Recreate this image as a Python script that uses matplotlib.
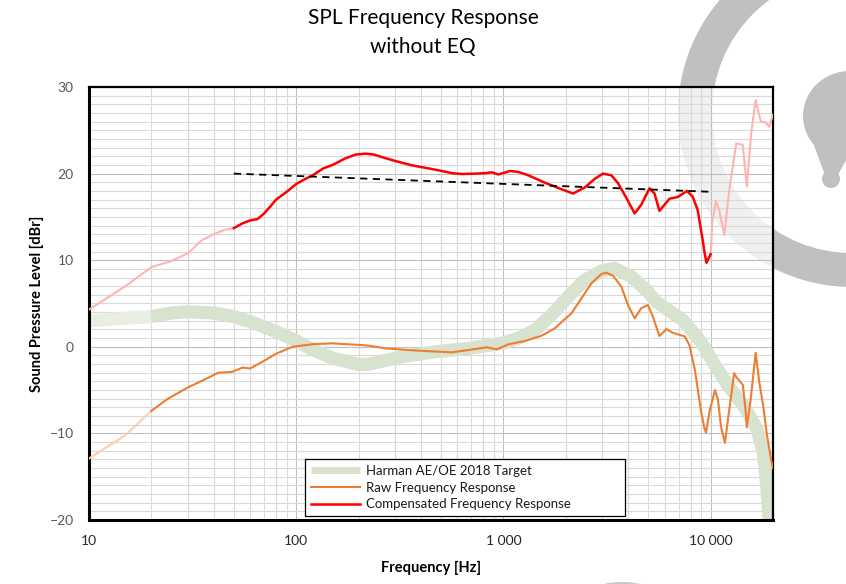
#!/usr/bin/env python3
"""SPL frequency response chart (without EQ)."""
import matplotlib
matplotlib.use('Agg')
import matplotlib.pyplot as plt
import numpy as np
from matplotlib.patches import Wedge, Ellipse, Polygon, Circle
from matplotlib.ticker import FixedLocator, FuncFormatter, MultipleLocator

plt.rcParams['font.family'] = ['Lato', 'DejaVu Sans']

# values
harman_freq = [10, 15, 20, 25, 30, 40, 50, 60, 70, 80, 100, 120, 150, 200, 224,
               324, 469, 679, 982, 1180, 1419, 1706, 2051, 2470, 2970, 3444,
               4140, 4980, 5460, 7330, 8970, 10230, 12080, 14520, 16700, 17990,
               18670, 19150, 20000]
harman_db = [3.0, 3.3, 3.5, 3.9, 4.05, 3.9, 3.5, 2.9, 2.3, 1.75, 0.7, -0.35, -1.3,
             -2.05, -2.0, -1.14, -0.57, -0.18, 0.4, 0.98, 1.94, 3.67, 5.78, 7.7,
             8.75, 9.06, 8.1, 6.36, 5.2, 3.1, 0.6, -1.7, -4.4, -6.9, -9.4, -12.3,
             -16.15, -20.0, -25.0]

raw_freq = [10, 15, 20, 24, 30, 36, 42, 49, 55, 60, 69, 80, 96, 120, 150, 174, 208,
            224, 270, 390, 565, 679, 832, 929, 1058, 1271, 1528, 1771, 1980, 2132,
            2379, 2660, 2970, 3140, 3380, 3710, 3990, 4300, 4625, 4980, 5260, 5660,
            6130, 6550, 7500, 7900, 8400, 8970, 9330, 9500, 9910, 10500, 10850,
            11220, 11720, 12300, 12980, 13400, 14300, 14750, 14950, 15600, 16500,
            17150, 17960, 18650, 19600, 20000]
raw_db = [-12.9, -10.2, -7.4, -6.0, -4.7, -3.8, -3.0, -2.9, -2.4, -2.5, -1.7, -0.8,
          0.0, 0.3, 0.4, 0.3, 0.2, 0.13, -0.18, -0.45, -0.64, -0.37, -0.06, -0.29,
          0.29, 0.67, 1.28, 2.13, 3.2, 3.87, 5.6, 7.33, 8.4, 8.56, 8.21, 6.94, 4.83,
          3.29, 4.45, 4.83, 3.5, 1.25, 2.05, 1.63, 1.2, 0.2, -2.7, -7.3, -9.4, -9.9,
          -7.3, -5.0, -6.1, -9.2, -11.1, -7.3, -3.05, -3.6, -4.4, -7.3, -9.3, -6.1,
          -0.7, -4.0, -6.9, -10.0, -13.1, -14.0]

comp_freq = [10, 15, 20, 25, 30, 35, 40, 45, 50, 55, 60, 65, 70, 75, 80, 90, 100,
             110, 120, 135, 150, 173, 194, 216, 237, 260, 301, 362, 436, 505, 565,
             631, 731, 816, 879, 946, 1077, 1180, 1320, 1585, 1905, 2170, 2470, 2760,
             3030, 3320, 3573, 3920, 4297, 4625, 5070, 5360, 5665, 6330, 6940, 7690,
             8190, 8660, 9160, 9330, 9550, 10000, 10200, 10600, 11000, 11640, 12300,
             13300, 14300, 14950, 15750, 16500, 17460, 18450, 19150, 20000]
comp_db = [4.3, 7.0, 9.2, 9.9, 10.8, 12.3, 13.0, 13.5, 13.7, 14.25, 14.6, 14.75,
           15.4, 16.2, 17.0, 17.9, 18.8, 19.35, 19.8, 20.6, 21.0, 21.77, 22.2, 22.3,
           22.2, 21.9, 21.45, 20.95, 20.6, 20.3, 20.05, 19.95, 20.0, 20.05, 20.15,
           19.9, 20.3, 20.2, 19.8, 18.95, 18.2, 17.7, 18.4, 19.4, 20.0, 19.8, 18.9,
           17.2, 15.4, 16.4, 18.3, 17.7, 15.7, 17.1, 17.3, 18.0, 17.35, 15.8, 12.3,
           11.0, 9.7, 10.7, 14.5, 16.8, 15.8, 12.9, 18.1, 23.5, 23.3, 18.5, 25.0,
           28.5, 26.0, 25.9, 25.4, 26.8]

trend_freq = [50, 10000]
trend_db = [20.0, 17.9]

x_ticks = [10, 100, 1000, 10000]
x_ticklabels = ['10', '100', '1 000', '10 000']
y_ticks = [-20, -10, 0, 10, 20, 30]

fig = plt.figure(figsize=(8.46, 5.84), dpi=100)

# watermark behind the plot
bg = fig.add_axes([0, 0, 1, 1], zorder=-1)
bg.set_xlim(0, 846)
bg.set_ylim(584, 0)
bg.axis('off')
wm = '#c0c0c0'
bg.add_patch(Wedge((852, 113), 174, 0, 360, width=34, color=wm, lw=0))
bg.add_patch(Ellipse((850, 116), 94, 90, color=wm, lw=0))
bg.add_patch(Polygon([(812, 140), (852, 150), (836, 178), (826, 178)], color=wm, lw=0))
bg.add_patch(Circle((831, 179), 9, color=wm, lw=0))
bg.add_patch(Ellipse((622, 593), 64, 22, color='#c8c8c8', lw=0))

ax = fig.add_axes([89 / 846, 64 / 584, 684 / 846, 433 / 584])
ax.set_facecolor((1, 1, 1, 0.77))
ax.set_xscale('log')
ax.set_xlim(10, 20000)
ax.set_ylim(-20, 30)

hf, hd = np.array(harman_freq), np.array(harman_db)
rf, rd = np.array(raw_freq), np.array(raw_db)
cf, cd = np.array(comp_freq), np.array(comp_db)

# Harman target band
m = hf <= 20
ax.plot(hf[m], hd[m], color='#e8eee3', lw=9.5, solid_capstyle='butt', zorder=2)
m = hf >= 20
ax.plot(hf[m], hd[m], color='#d8e3cf', lw=9.5, solid_capstyle='butt', zorder=2,
        label='Harman AE/OE 2018 Target')

# raw response
m = rf <= 20
ax.plot(rf[m], rd[m], color='#f9cfb3', lw=1.5, zorder=3)
m = rf >= 20
ax.plot(rf[m], rd[m], color='#ed7d31', lw=1.5, zorder=3, label='Raw Frequency Response')

# compensated response
m = cf <= 50
ax.plot(cf[m], cd[m], color='#ffb4b4', lw=1.5, zorder=4)
m = cf >= 10000
ax.plot(cf[m], cd[m], color='#ffb4b4', lw=1.5, zorder=4)
m = (cf >= 50) & (cf <= 10000)
ax.plot(cf[m], cd[m], color='#ff0000', lw=1.8, zorder=4,
        label='Compensated Frequency Response')

ax.plot(trend_freq, trend_db, color='black', lw=1.3, ls=(0, (4, 3)), zorder=5)

# grid and ticks
ax.xaxis.set_major_locator(FixedLocator(x_ticks))
ax.xaxis.set_major_formatter(FuncFormatter(lambda v, p: x_ticklabels[x_ticks.index(int(round(v)))] if int(round(v)) in x_ticks else ''))
minor_x = [k * 10 ** e for e in range(1, 5) for k in range(2, 10) if k * 10 ** e <= 20000]
ax.xaxis.set_minor_locator(FixedLocator(minor_x))
ax.xaxis.set_minor_formatter(FuncFormatter(lambda v, p: ''))
ax.yaxis.set_major_locator(FixedLocator(y_ticks))
ax.yaxis.set_minor_locator(MultipleLocator(1))
ax.grid(which='major', color='#bfbfbf', lw=0.8, zorder=0)
ax.grid(which='minor', color='#d9d9d9', lw=0.8, zorder=0)
ax.set_axisbelow(True)
ax.tick_params(which='both', length=0)
ax.tick_params(axis='x', pad=11, labelsize=10, labelcolor='#262626')
ax.tick_params(axis='y', pad=11, labelsize=10, labelcolor='#595959')

for side in ['left', 'bottom']:
    ax.spines[side].set_linewidth(2.2)
for side in ['top', 'right']:
    ax.spines[side].set_linewidth(1.6)
for s in ax.spines.values():
    s.set_color('black')

leg = ax.legend(loc='lower left', bbox_to_anchor=(0.316, 0.009, 0.468, 0.129),
                mode='expand', borderaxespad=0, fontsize=9.5, handlelength=3.7,
                handletextpad=0.45, labelspacing=0.35, borderpad=0.45,
                fancybox=False, framealpha=1, edgecolor='black')
leg.get_frame().set_linewidth(0.9)
leg.legend_handles[0].set_linewidth(5)
for t in leg.get_texts():
    t.set_color('#1a1a1a')

fig.text(0.5, 1 - 18 / 584, 'SPL Frequency Response', ha='center', va='center', fontsize=15)
fig.text(0.5, 1 - 47 / 584, 'without EQ', ha='center', va='center', fontsize=15)
fig.text(431 / 846, 1 - 568 / 584, 'Frequency [Hz]', ha='center', va='center',
         fontsize=10.5, fontweight='bold')
fig.text(37 / 846, 1 - 304 / 584, 'Sound Pressure Level [dBr]', ha='center', va='center',
         rotation=90, fontsize=10.5, fontweight='bold')

fig.savefig('out.png', dpi=100)
